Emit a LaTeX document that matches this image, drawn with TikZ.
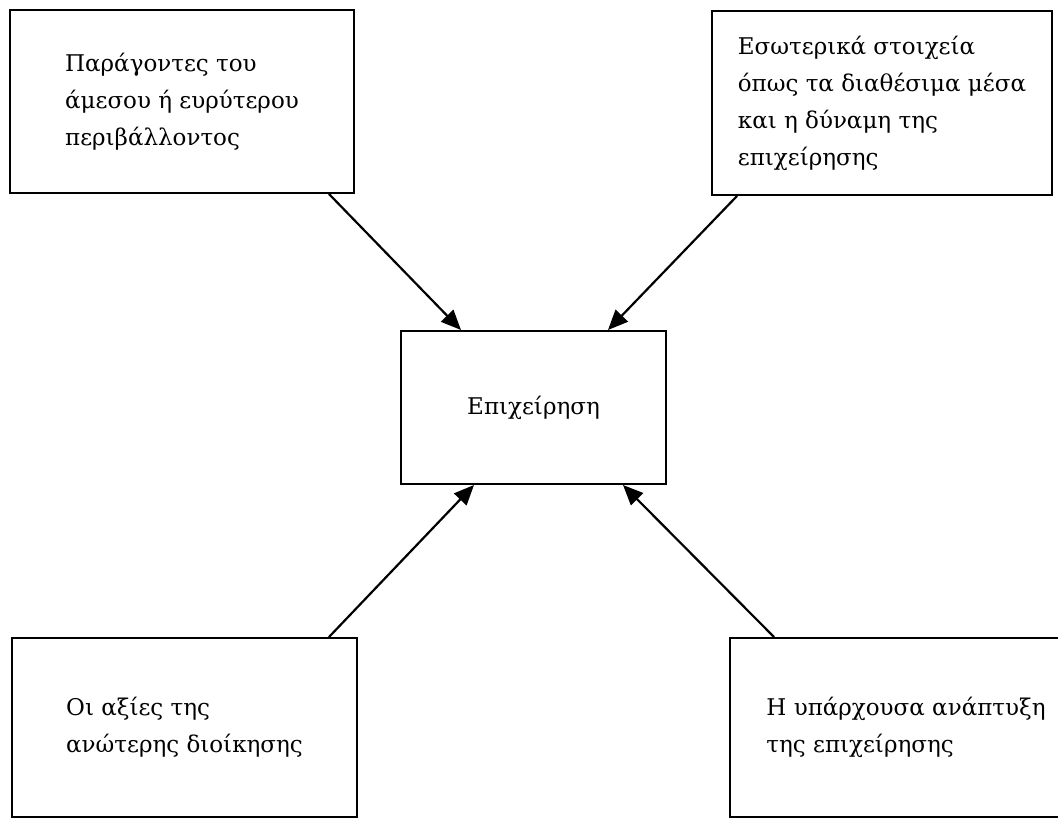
\documentclass[tikz,border=0pt]{standalone}
\usepackage{fontspec}
\setmainfont{DejaVu Serif}
\usetikzlibrary{arrows.meta}
\begin{document}
\begin{tikzpicture}[x=1pt,y=-1pt,
  box/.style={draw=black, line width=2pt, fill=white, align=left,
    inner sep=0pt, font=\fontsize{23}{37}\selectfont},
  feed/.style={line width=2.2pt, -{Triangle[length=20pt,width=17pt]}}]
  \useasboundingbox (0,0) rectangle (1058,819);
  \fill[white] (0,0) rectangle (1058,819);
  \begin{scope}
    \clip (0,0) rectangle (1058,819);
    % outer factors
    \node[box, minimum width=344pt, minimum height=183pt] (tl) at (182,101.5)
      {Παράγοντες του\\άμεσου ή ευρύτερου\\περιβάλλοντος};
    \node[box, minimum width=340pt, minimum height=184pt] (tr) at (882,103)
      {Εσωτερικά στοιχεία\\όπως τα διαθέσιμα μέσα\\και η δύναμη της\\επιχείρησης};
    \node[box, minimum width=345pt, minimum height=179pt] (bl) at (184.5,727.5)
      {Οι αξίες της\\ανώτερης διοίκησης};
    \node[box, minimum width=352pt, minimum height=179pt] (br) at (906,727.5)
      {Η υπάρχουσα ανάπτυξη\\της επιχείρησης};
    % the firm in the middle
    \node[box, minimum width=265pt, minimum height=153pt] (c) at (533.5,407.5)
      {Επιχείρηση};
    % influences pointing at the firm
    \draw[feed] ([xshift=-26pt]tl.south east) -- ([xshift=61pt]c.north west);
    \draw[feed] ([xshift=26pt]tr.south west) -- ([xshift=-59pt]c.north east);
    \draw[feed] ([xshift=-29pt]bl.north east) -- ([xshift=74pt]c.south west);
    \draw[feed] ([xshift=45pt]br.north west) -- ([xshift=-44pt]c.south east);
  \end{scope}
\end{tikzpicture}
\end{document}
